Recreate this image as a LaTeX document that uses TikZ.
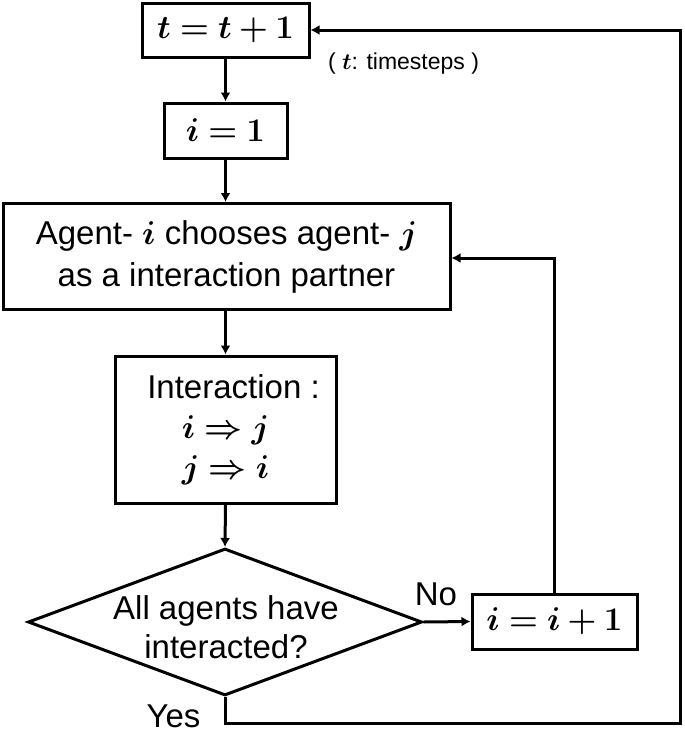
\RequirePackage{fix-cm}
\documentclass[tikz,border=0pt]{standalone}
\usepackage{amsmath,bm}
\usepackage{fontspec}
\setmainfont{Liberation Sans}
\usetikzlibrary{arrows.meta,shapes.geometric}
\begin{document}
\begin{tikzpicture}[x=1pt,y=-1pt,
  box/.style={draw,line width=3pt,inner sep=0pt,align=center,font=\fontsize{33}{42}\selectfont},
  mathbox/.style={box,font=\fontsize{33}{36}\selectfont},
  arr/.style={line width=3pt,-{Latex[length=9pt,width=10pt]}},
  lbl/.style={font=\fontsize{33}{38}\selectfont}]
\useasboundingbox (0,0) rectangle (685,734);
\node[mathbox,minimum width=167pt,minimum height=54pt] (t) at (225.5,30) {$\bm{t=t+1}$};
\node[font=\fontsize{23}{28}\selectfont] (ts) at (403.5,64) {( $\bm{t}$: timesteps )};
\node[mathbox,minimum width=123pt,minimum height=55pt] (i1) at (225.5,130.5) {$\bm{i=1}$};
\node[box,minimum width=447pt,minimum height=106pt] (ag) at (226.5,256.5) {Agent- $\bm{i}$ chooses agent- $\bm{j}$\\as a interaction partner};
\node[box,minimum width=221pt,minimum height=147pt,font=\fontsize{33}{40}\selectfont] (int) at (225.5,429.5) {\hspace*{16pt}Interaction :\\$\bm{i\Rightarrow j}$\\$\bm{j\Rightarrow i}$};
\node[diamond,draw,line width=3pt,minimum width=394pt,minimum height=147pt,inner sep=0pt] (d) at (225,622) {};
\node[align=center,font=\fontsize{33}{39}\selectfont] (dt) at (226,627) {All agents have\\interacted?};
\node[mathbox,minimum width=165pt,minimum height=55pt] (inc) at (554.5,621.5) {$\bm{i=i+1}$};
\node[lbl] (no) at (436,594) {No};
\node[lbl] (yes) at (173.5,716) {Yes};
\coordinate (yb) at (680,723);
\draw[arr] (t.south) -- (i1.north);
\draw[arr] (i1.south) -- (i1.south |- ag.north);
\draw[arr] (i1.south |- ag.south) -- (int.north);
\draw[arr] (int.south) -- (d.north);
\draw[arr] (d.east) -- (inc.west);
\draw[arr] (inc.north) |- ([yshift=-1.5pt]ag.east);
\draw[arr] (d.south) |- (yb) |- (t.east);
\end{tikzpicture}
\end{document}
